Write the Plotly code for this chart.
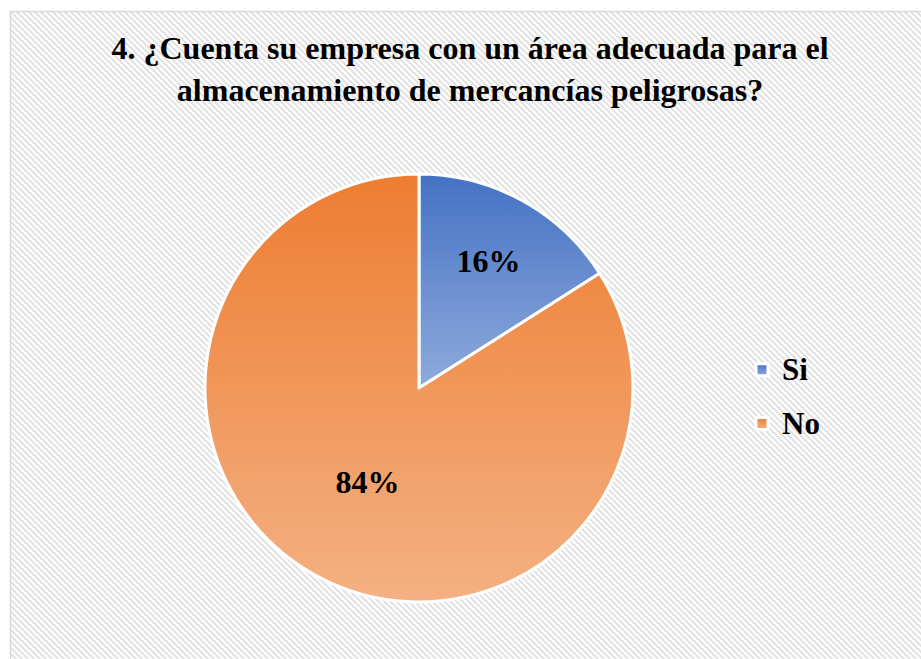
import json
import base64
import plotly.graph_objects as go

# ---- data ----
labels = ["Si", "No"]
values = [16, 84]
colors = ["#4472C4", "#ED7D31"]          # gradient top colours
colors_light = ["#8FAADC", "#F4B183"]    # gradient bottom colours
title_text = "4. ¿Cuenta su empresa con un área adecuada para el<br>almacenamiento de mercancías peligrosas?"

W, H = 921, 659
FONT = "Liberation Serif"

def data_uri(svg):
    return "data:image/svg+xml;base64," + base64.b64encode(svg.encode()).decode()

# background hatch pattern
bg_w, bg_h = W - 10, H - 11
hatch_svg = f"""<svg xmlns='http://www.w3.org/2000/svg' width='{bg_w}' height='{bg_h}' viewBox='0 0 {bg_w} {bg_h}'>
<defs><pattern id='p' patternUnits='userSpaceOnUse' width='6' height='6'>
<rect width='6' height='6' fill='#ffffff'/>
<path d='M-1,-1 L7,7 M-1,5 L1,7 M5,-1 L7,1' stroke='#e2e2e2' stroke-width='2'/>
</pattern></defs>
<rect width='{bg_w}' height='{bg_h}' fill='url(#p)'/>
</svg>"""

# pie geometry (pixels)
cx, cy, r = 419, 388, 214

fig = go.Figure(go.Pie(
    labels=[f"<span style='font-size:31px;baseline-shift:5px'>{l}</span>" for l in labels],
    values=values,
    sort=False,
    direction="clockwise",
    rotation=0,
    marker=dict(colors=colors, line=dict(color="white", width=3)),
    textinfo="percent",
    textposition="inside",
    insidetextorientation="horizontal",
    textfont=dict(family=FONT, size=32, color="black", weight="bold"),
    hoverinfo="label+percent",
    domain=dict(x=[(cx - r) / W, (cx + r) / W], y=[(H - cy - r) / H, (H - cy + r) / H]),
))

fig.update_layout(
    width=W, height=H,
    margin=dict(l=0, r=0, t=0, b=0),
    paper_bgcolor="white",
    font=dict(family=FONT, color="black"),
    title=dict(text=title_text, x=470 / W, xanchor="center", y=1 - 59 / H, yanchor="top",
               font=dict(family=FONT, size=32, color="black", weight="bold")),
    showlegend=True,
    legend=dict(x=742 / W, xanchor="left", y=1 - 397 / H, yanchor="middle",
                font=dict(family=FONT, size=39, color="black", weight="bold"),
                bgcolor="rgba(0,0,0,0)"),
    images=[
        dict(source=data_uri(hatch_svg), xref="paper", yref="paper",
             x=10 / W, y=1 - 11 / H, sizex=bg_w / W, sizey=bg_h / H,
             xanchor="left", yanchor="top", sizing="stretch", layer="below"),
    ],
    shapes=[dict(type="rect", xref="paper", yref="paper",
                 x0=10.5 / W, y0=-0.01, x1=1.01, y1=1 - 11.5 / H,
                 line=dict(color="#d9d9d9", width=1.5), fillcolor="rgba(0,0,0,0)")],
)

post_js = """
document.body.style.margin = '0';
var gd = document.getElementById('{plot_id}');
var TOP = %s, BOT = %s;
var ns = 'http://www.w3.org/2000/svg';
var defs = gd.querySelector('defs');
function mk(id, i) {
  var g = document.createElementNS(ns, 'linearGradient');
  g.setAttribute('id', id);
  g.setAttribute('x1', '0'); g.setAttribute('y1', '0');
  g.setAttribute('x2', '0'); g.setAttribute('y2', '1');
  [[0, TOP[i]], [1, BOT[i]]].forEach(function (s) {
    var st = document.createElementNS(ns, 'stop');
    st.setAttribute('offset', s[0]);
    st.setAttribute('stop-color', s[1]);
    g.appendChild(st);
  });
  defs.appendChild(g);
}
gd.querySelectorAll('g.slice path.surface').forEach(function (p, k) {
  var d = p.__data__ || (p.parentNode && p.parentNode.__data__);
  var i = (d && d.i !== undefined) ? d.i : k;
  var id = 'slgrad' + k;
  mk(id, i);
  p.style.fill = 'url(#' + id + ')';
});
gd.querySelectorAll('g.legendpoints path.legendpie').forEach(function (p, k) {
  var d = p.__data__;
  var dd = Array.isArray(d) ? d[0] : d;
  var i = (dd && dd.i !== undefined) ? dd.i : k;
  var id = 'lggrad' + k;
  mk(id, i);
  p.style.fill = 'url(#' + id + ')';
});
""" % (json.dumps(colors), json.dumps(colors_light))

fig.write_html("out.html", post_script=post_js, config={"displayModeBar": False})
